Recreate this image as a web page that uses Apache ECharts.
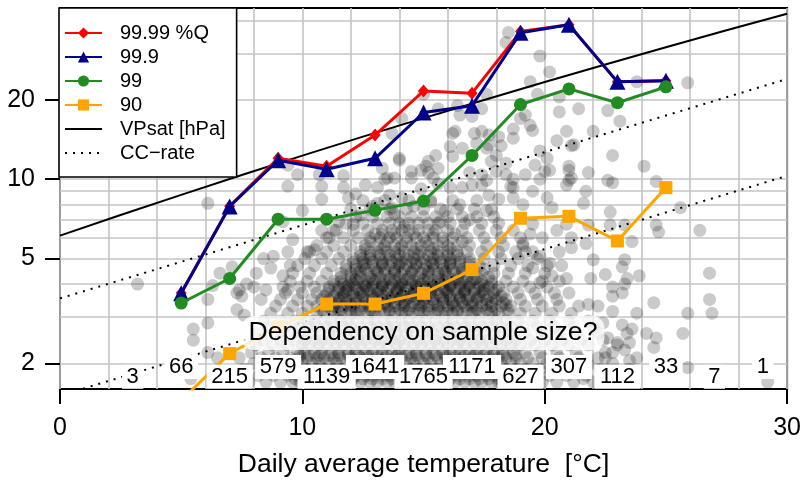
<!DOCTYPE html>
<html>
<head>
<meta charset="utf-8">
<script src="https://cdn.jsdelivr.net/npm/echarts@6/dist/echarts.min.js"></script>
<style>html,body{margin:0;padding:0;background:#fff}#c{width:804px;height:483px}</style>
</head>
<body>
<div id="c"></div>
<script>
// ---------- data ----------
const temps = [5, 7, 9, 11, 13, 15, 17, 19, 21, 23, 25];
const q9999 = [3.7, 7.9, 12.0, 11.2, 14.7, 21.6, 21.2, 36.3, 38.5, 23.4, 23.6];
const q999  = [3.69, 7.88, 11.8, 10.9, 12.0, 17.9, 19.0, 35.9, 38.5, 23.4, 23.6];
const q99   = [3.39, 4.2, 7.05, 7.05, 7.62, 8.26, 12.3, 19.2, 22.0, 19.5, 22.4];
const q90   = [1.45, 2.18, 2.75, 3.36, 3.36, 3.69, 4.54, 7.11, 7.23, 5.83, 9.29];
const vpsat = [[0,6.11],[2.5,7.31],[5,8.72],[7.5,10.37],[10,12.28],[12.5,14.5],[15,17.04],[17.5,19.97],[20,23.37],[22.5,27.23],[25,31.67],[27.5,36.71],[30,42.43]];
const ccUpper = [[0,3.53],[30,24.0]];
const ccLower = [[0,1.51],[30,10.3]];
const binCenters = [3,5,7,9,11,13,15,17,19,21,23,25,27,29];
const binCounts = [3,66,215,579,1139,1641,1765,1171,627,307,112,33,7,1];
const countLevels = [1.78, 1.94];
const xTicks = [0,10,20,30];
const yTicks = [2,5,10,20];
const yGrid = [2,3,4,5,6,7,8,9,10,20,30,40];
const yRange = [1.6, 44.6];
const xRange = [0, 30];

// scattered daily values (sparse part)
const scatterSparse = [
[3.2,4.0],[6.1,8.1],[6.1,3.5],[6.3,3.95],[6.1,2.85],[5.5,2.7],[5.5,2.45],[7.1,4.65],[7.3,3.7],[6.1,2.2],[6.5,2.1],[5.4,1.75],[7.7,4.0],[7.5,3.6],[7.3,3.2],[7.6,3.05],[8.0,3.9],[8.1,4.4],[8.3,3.5],[6.6,4.4],
[9.8,10.4],[9.4,11.3],[9.4,9.4],[10.7,10.4],[10.8,9.4],[11.7,10.3],[11.7,9.3],[10.8,8.4],[10.0,7.6],[11.9,8.5],[12.6,9.5],[13.1,9.3],[13.4,10.0],[13.8,10.1],[14.0,12.0],[13.6,8.7],[13.1,8.1],[13.7,7.8],[14.1,8.5],[11.5,6.9],[12.1,6.75],[10.8,6.4],[11.3,6.4],[9.6,5.9],[9.4,5.3],[9.2,6.9],[10.2,5.3],[11.1,6.0],[10.5,5.4],[8.8,5.1],[8.7,4.6],[8.4,5.0],[9.5,4.7],[9.2,4.3],[8.5,3.8],[9.4,3.8],[7.4,3.8],
[18.5,36.0],[18.4,33.0],[19.8,29.3],[20.2,25.5],[19.4,23.4],[19.7,21.0],[20.6,20.5],[20.6,18.0],[21.4,18.5],[22.6,18.2],[23.1,16.6],[22.0,15.2],[21.1,13.4],[22.8,12.3],[24.1,11.2],[23.8,23.4],[25.9,23.2],[21.0,10.8],[21.8,10.6],[22.6,9.9],[20.0,10.7],[19.6,11.3],[19.8,12.8],[19.4,16.0],[19.0,17.0],[19.2,17.5],[18.7,15.5],[18.7,14.3],[18.1,14.5],[18.2,13.4],[17.7,14.7],[17.6,13.1],[17.1,14.9],[17.4,18.5],[17.6,21.0],[16.5,17.5],[17.0,17.3],[16.3,15.2],[16.6,13.1],[16.1,13.3],[16.2,12.2],[15.1,11.2],[15.2,11.7],[15.5,12.3],[15.6,18.5],[13.7,14.9],[14.1,17.0],[15.0,21.0],[16.9,10.6],[17.4,10.4],[17.8,11.7],[18.0,12.3],[18.4,10.4],[18.7,10.0],[17.6,9.9],[18.6,9.4],[19.8,10.0],[21.0,9.9],[20.9,9.5],[15.2,10.6],[14.5,10.7],[13.3,11.0],[13.5,10.1],
[20.9,15.2],[20.5,14.0],[21.2,13.5],[19.5,15.3],[20.2,10.8],[21.0,11.2],[20.1,12.0],[21.1,10.1],[19.2,10.4],[18.4,11.5],[18.0,10.7],[17.7,13.5],[17.2,13.7],[17.4,15.2],[16.2,14.9],[16.4,19.0],[14.9,10.8],[15.6,11.0],[14.0,11.8],[14.5,10.1],[15.4,10.1],[16.1,9.3],[16.6,9.3],[17.0,9.5],[17.4,9.5],[17.7,8.7],[18.1,8.4],[18.7,8.5],[18.7,9.3],[19.1,8.0],[19.5,9.0],[20.1,8.5],[20.3,7.8],[19.5,6.75],[19.4,6.2],[19.9,6.0],[20.5,6.4],[20.9,6.75],[21.1,6.0],[21.1,5.5],[20.6,5.3],[20.2,4.8],[20.7,4.7],[19.8,5.1],[19.5,4.6],[20.3,4.3],[20.9,4.2],[19.8,4.05],[19.2,5.3],[19.1,5.7],
[26.8,4.4],[26.8,3.5],[26.9,3.1],[25.9,3.1],[25.7,2.6],[24.5,3.4],[26.4,6.4],[25.6,7.8],[24.6,6.7],[24.7,6.3],[24.6,2.5],[24.5,2.3],[24.2,2.6],[25.9,1.93],[29.2,1.7],[23.9,4.3],[23.6,5.8],[23.3,4.95],[23.2,4.65],[23.4,4.2],[22.7,7.5],[22.7,6.7],[23.3,6.7],
[22.0,4.95],[21.9,4.2],[22.5,4.35],[22.8,3.9],[22.8,3.6],[23.2,3.7],[23.3,4.0],[23.8,3.1],[22.8,3.15],[22.2,3.3],[21.8,3.35],[22.4,2.85],[23.2,2.8],[23.6,2.7],[22.6,2.5],[23.0,2.4],[23.5,2.4],[22.8,2.2],[23.3,2.25],[22.5,2.1],[23.5,2.05],[21.8,1.98],[21.6,1.75],
[21.7,9.0],[21.6,8.1],[21.8,6.7],[21.7,5.7],[22.8,9.7],[24.6,9.8],
[12.9,7.9],[13.8,7.4],[14.6,7.9],[15.3,8.2],[15.9,7.6],[16.5,8.0],[14.2,6.6],[15.7,6.9],[12.4,7.3],[13.3,6.2],[16.9,7.0],[17.6,7.6],[14.9,9.2],[15.6,9.6],[12.2,8.8]
];

// dense part of the cloud: value level -> temperatures read along that level
const cloudRows = [
[1.7,[7.8,8.5,9.1,9.6,9.9,10.3,10.6,11.0,11.3,11.7,12.0,12.4,12.8,13.1,13.5,13.8,14.2,14.5,14.9,15.3,15.6,16.0,16.3,16.7,17.1,17.4,17.8,18.1,18.5,18.9,19.3,19.9,20.5,21.2,22.0,23.1]],
[1.75,[9.7,10.1,10.5,10.9,11.3,11.7,12.1,12.5,12.9,13.3,13.7,14.1,14.5,14.9,15.3,15.7,16.1,16.5,16.9,17.3,17.7,18.1,18.5,19.0]],
[1.8,[8.2,8.8,9.4,9.8,10.1,10.5,10.8,11.2,11.5,11.9,12.2,12.6,12.9,13.3,13.6,14.0,14.4,14.7,15.1,15.4,15.8,16.1,16.5,16.9,17.2,17.6,17.9,18.3,18.7,19.1,19.6,20.2,20.9,21.7,22.6]],
[1.9,[7.6,8.4,9.0,9.5,9.9,10.2,10.6,10.9,11.3,11.6,12.0,12.3,12.7,13.0,13.4,13.8,14.1,14.5,14.8,15.2,15.5,15.9,16.2,16.6,17.0,17.3,17.7,18.0,18.4,18.8,19.2,19.8,20.4,21.1,22.3,23.5]],
[2.0,[8.0,8.7,9.3,9.7,10.0,10.4,10.7,11.1,11.4,11.8,12.1,12.5,12.8,13.2,13.6,13.9,14.3,14.6,15.0,15.3,15.7,16.0,16.4,16.8,17.1,17.5,17.8,18.2,18.6,19.0,19.5,20.1,20.8,21.5,22.8]],
[2.1,[7.4,8.3,8.9,9.5,9.9,10.2,10.6,10.9,11.3,11.6,12.0,12.4,12.7,13.1,13.4,13.8,14.1,14.5,14.8,15.2,15.6,15.9,16.3,16.6,17.0,17.3,17.7,18.1,18.4,18.8,19.3,19.9,20.6,21.4,22.2,23.8]],
[2.15,[9.9,10.3,10.7,11.1,11.5,11.9,12.3,12.7,13.1,13.5,13.9,14.3,14.7,15.1,15.5,15.9,16.3,16.7,17.1,17.5,17.9,18.3,18.8]],
[2.2,[7.9,8.6,9.2,9.8,10.1,10.5,10.8,11.2,11.5,11.9,12.2,12.6,12.9,13.3,13.7,14.0,14.4,14.7,15.1,15.4,15.8,16.1,16.5,16.9,17.2,17.6,17.9,18.3,18.7,19.2,19.8,20.5,21.3,22.5]],
[2.35,[8.1,8.8,9.4,10.0,10.3,10.7,11.0,11.4,11.7,12.1,12.4,12.8,13.2,13.5,13.9,14.2,14.6,14.9,15.3,15.6,16.0,16.4,16.7,17.1,17.4,17.8,18.2,18.6,19.0,19.6,20.3,21.0,21.8,23.0]],
[2.45,[8.4,9.1,9.7,10.1,10.5,10.8,11.2,11.6,11.9,12.3,12.6,13.0,13.3,13.7,14.0,14.4,14.8,15.1,15.5,15.8,16.2,16.5,16.9,17.3,17.6,18.0,18.4,18.8,19.4,20.0,20.7,21.5,22.4]],
[2.6,[8.2,9.0,9.6,10.0,10.4,10.7,11.1,11.4,11.8,12.2,12.5,12.9,13.2,13.6,13.9,14.3,14.6,15.0,15.4,15.7,16.1,16.4,16.8,17.1,17.5,17.9,18.3,18.7,19.2,19.9,20.6,21.3,22.2,23.4]],
[2.75,[8.6,9.3,9.9,10.3,10.6,11.0,11.3,11.7,12.0,12.4,12.8,13.1,13.5,13.8,14.2,14.5,14.9,15.2,15.6,16.0,16.3,16.7,17.0,17.4,17.8,18.2,18.6,19.1,19.7,20.4,21.2,22.0]],
[2.9,[8.4,9.1,9.7,10.2,10.5,10.9,11.2,11.6,11.9,12.3,12.7,13.0,13.4,13.7,14.1,14.4,14.8,15.1,15.5,15.9,16.2,16.6,16.9,17.3,17.7,18.0,18.4,18.9,19.5,20.2,21.0,21.8]],
[3.1,[8.7,9.4,10.0,10.6,10.9,11.3,11.6,12.0,12.3,12.7,13.0,13.4,13.8,14.1,14.5,14.8,15.2,15.5,15.9,16.2,16.6,17.0,17.3,17.7,18.1,18.5,19.0,19.6,20.3,21.1]],
[3.15,[11.5,12.2,12.9,13.6,14.3,15.0,15.7,16.4,17.1,17.8]],
[3.2,[10.8,11.2,11.6,12.0,12.4,12.8,13.2,13.6,14.0,14.4,14.8,15.2,15.6,16.0,16.4,16.8,17.2,17.6,18.0,18.5]],
[3.3,[8.9,9.6,10.2,10.6,11.0,11.3,11.7,12.0,12.4,12.7,13.1,13.5,13.8,14.2,14.5,14.9,15.2,15.6,16.0,16.3,16.7,17.0,17.4,17.8,18.2,18.6,19.2,19.9,20.6,21.4]],
[3.35,[11.3,12.0,12.7,13.4,14.1,14.8,15.5,16.2,16.9,17.6,18.4]],
[3.4,[11.0,11.4,11.8,12.2,12.6,13.0,13.4,13.8,14.2,14.6,15.0,15.4,15.8,16.2,16.6,17.0,17.4,17.8,18.3]],
[3.5,[9.1,9.8,10.4,10.8,11.1,11.5,11.8,12.2,12.6,12.9,13.3,13.6,14.0,14.3,14.7,15.0,15.4,15.8,16.1,16.5,16.8,17.2,17.6,18.0,18.4,19.0,19.7,20.5]],
[3.55,[11.6,12.3,13.0,13.7,14.4,15.1,15.8,16.5,17.2,17.9]],
[3.6,[10.9,11.3,11.7,12.1,12.5,12.9,13.3,13.7,14.1,14.5,14.9,15.3,15.7,16.1,16.5,16.9,17.3,17.7,18.2]],
[3.7,[9.3,10.0,10.6,11.0,11.4,11.7,12.1,12.4,12.8,13.1,13.5,13.9,14.2,14.6,14.9,15.3,15.6,16.0,16.4,16.7,17.1,17.5,17.9,18.3,18.9,19.6,20.4,21.0]],
[3.75,[11.8,12.5,13.2,13.9,14.6,15.3,16.0,16.7,17.4]],
[3.8,[11.1,11.5,11.9,12.3,12.7,13.1,13.5,13.9,14.3,14.7,15.1,15.5,15.9,16.3,16.7,17.1,17.5,18.0]],
[3.9,[9.2,9.9,10.5,11.1,11.5,11.8,12.2,12.6,12.9,13.3,13.6,14.0,14.3,14.7,15.1,15.4,15.8,16.1,16.5,16.9,17.3,17.7,18.1,18.7,19.4,20.1]],
[3.95,[11.9,12.6,13.3,14.0,14.7,15.4,16.1,16.8,17.5]],
[4.0,[11.3,11.7,12.1,12.5,12.9,13.3,13.7,14.1,14.5,14.9,15.3,15.7,16.1,16.5,16.9,17.3,17.8]],
[4.1,[9.5,10.2,10.8,11.3,11.6,12.0,12.3,12.7,13.0,13.4,13.8,14.1,14.5,14.8,15.2,15.6,15.9,16.3,16.6,17.0,17.4,17.8,18.4,19.1,19.9,20.6]],
[4.17,[12.2,12.9,13.6,14.3,15.0,15.7,16.4,17.1]],
[4.25,[11.6,12.0,12.4,12.8,13.2,13.6,14.0,14.4,14.8,15.2,15.6,16.0,16.4,16.8,17.2,17.7]],
[4.4,[9.6,10.3,11.0,11.6,12.0,12.3,12.7,13.1,13.4,13.8,14.1,14.5,14.9,15.2,15.6,15.9,16.3,16.7,17.0,17.4,17.9,18.5,19.2,20.0]],
[4.47,[12.4,13.1,13.8,14.5,15.2,15.9,16.6]],
[4.55,[11.8,12.2,12.6,13.0,13.4,13.8,14.2,14.6,15.0,15.4,15.8,16.2,16.6,17.0,17.5]],
[4.7,[9.8,10.5,11.2,11.8,12.2,12.5,12.9,13.3,13.6,14.0,14.3,14.7,15.1,15.4,15.8,16.1,16.5,16.9,17.3,17.9,18.6,19.3,20.1]],
[4.78,[12.6,13.3,14.0,14.7,15.4,16.1]],
[4.85,[12.1,12.5,12.9,13.3,13.7,14.1,14.5,14.9,15.3,15.7,16.1,16.5,16.9]],
[5.0,[10.1,10.8,11.5,12.1,12.5,12.8,13.2,13.6,13.9,14.3,14.6,15.0,15.4,15.7,16.1,16.5,16.9,17.5,18.2,18.9,19.7]],
[5.15,[12.4,12.8,13.2,13.6,14.0,14.4,14.8,15.2,15.6,16.0,16.4]],
[5.3,[10.3,11.0,11.7,12.4,12.8,13.1,13.5,13.8,14.2,14.6,14.9,15.3,15.6,16.0,16.4,16.8,17.4,18.1,18.8,19.5]],
[5.45,[12.6,13.3,14.0,14.7,15.4,16.1]],
[5.6,[10.6,11.3,12.0,12.6,13.1,13.4,13.8,14.1,14.5,14.9,15.2,15.6,16.0,16.4,16.9,17.6,18.3,19.1]],
[5.8,[12.8,13.5,14.3,15.1,15.8,16.6]],
[6.0,[11.0,11.7,12.3,12.8,13.2,13.6,13.9,14.3,14.7,15.0,15.4,15.8,16.2,16.8,17.5,18.2,19.0]],
[6.2,[13.0,13.8,14.6,15.4,16.3]],
[6.4,[11.4,12.1,12.7,13.3,13.7,14.1,14.4,14.8,15.2,15.5,16.0,16.6,17.3,18.0,18.7]],
[6.8,[11.8,12.5,13.1,13.6,14.0,14.4,14.8,15.2,15.6,16.1,16.7,17.4,18.1]],
[7.2,[12.2,12.9,13.5,14.0,14.5,15.0,15.5,16.0,16.6,17.2,17.9]],
[7.7,[12.0,12.8,13.6,14.3,15.0,15.7,16.4,17.1,17.8]],
[8.3,[12.5,13.4,14.4,15.3,16.2,17.2]]
];

// ---------- build ----------
const FONT = "'Liberation Sans', Arial, Helvetica, sans-serif";
const cloud = [];
cloudRows.forEach(([v, ts]) => ts.forEach(t => cloud.push([t, v])));
const scatterAll = scatterSparse.concat(cloud);
const pair = arr => temps.map((t, i) => [t, arr[i]]);

const chart = echarts.init(document.getElementById('c'), null, {renderer: 'canvas'});
const lineBase = {type: 'line', xAxisIndex: 0, yAxisIndex: 0, clip: true, silent: true, animation: false};

chart.setOption({
  backgroundColor: '#fff',
  animation: false,
  grid: {left: 60, right: 16, top: 8, bottom: 89, show: true, borderColor: '#000', borderWidth: 2, backgroundColor: 'transparent'},
  xAxis: [
    {type: 'value', min: xRange[0], max: xRange[1], interval: 2, position: 'bottom',
     axisLine: {show: false}, axisTick: {show: false}, axisLabel: {show: false},
     splitLine: {show: true, lineStyle: {color: '#c4c4c4', width: 1.6}}},
    {type: 'value', min: xRange[0], max: xRange[1], position: 'bottom',
     axisLine: {show: false},
     axisTick: {show: true, length: 15, customValues: xTicks, lineStyle: {color: '#000', width: 2}},
     axisLabel: {show: true, customValues: xTicks, fontSize: 25, color: '#000', fontFamily: FONT, margin: 27, showMinLabel: true, showMaxLabel: true},
     splitLine: {show: false},
     name: 'Daily average temperature  [°C]', nameLocation: 'middle', nameGap: 62,
     nameTextStyle: {fontSize: 26.5, color: '#000', fontFamily: FONT}}
  ],
  yAxis: [
    {type: 'log', logBase: 10, min: yRange[0], max: yRange[1], position: 'left',
     axisLine: {show: false},
     axisTick: {show: false, customValues: yGrid},
     axisLabel: {show: false},
     splitLine: {show: true, lineStyle: {color: '#c4c4c4', width: 1.6}}},
    {type: 'log', logBase: 10, min: yRange[0], max: yRange[1], position: 'left',
     axisLine: {show: false},
     axisTick: {show: true, length: 15, customValues: yTicks, lineStyle: {color: '#000', width: 2}},
     axisLabel: {show: true, customValues: yTicks, fontSize: 25, color: '#000', fontFamily: FONT, margin: 25},
     splitLine: {show: false}}
  ],
  legend: {
    orient: 'vertical', left: 59, top: 8, z: 20, zlevel: 1,
    backgroundColor: '#fff', borderColor: '#000', borderWidth: 1.6, borderRadius: 0,
    padding: [15, 11, 14, 5], itemWidth: 37, itemHeight: 14, itemGap: 4,
    textStyle: {fontSize: 20, color: '#000', fontFamily: FONT, padding: [0, 0, 0, 13]},
    data: ['99.99 %Q', '99.9', '99', '90',
           {name: 'VPsat [hPa]', itemStyle: {opacity: 0}},
           {name: 'CC\u2212rate', itemStyle: {opacity: 0}}],
    selectedMode: false
  },
  graphic: [{
    type: 'text', x: 423, y: 333, z: 50, zlevel: 1,
    style: {text: 'Dependency on sample size?', font: '26.6px ' + FONT, fill: '#000',
            align: 'center', verticalAlign: 'middle',
            backgroundColor: 'rgba(255,255,255,0.8)', borderRadius: 12, padding: [4, 7, 3, 7]}
  }],
  series: [
    {type: 'scatter', name: 'days', data: scatterAll, symbol: 'circle', symbolSize: 13,
     itemStyle: {color: 'rgba(0,0,0,0.26)'}, silent: true, z: 1, clip: true, large: false, progressive: 0},
    Object.assign({}, lineBase, {name: 'VPsat [hPa]', data: vpsat, symbol: 'none', z: 3,
     lineStyle: {color: '#000', width: 2}, itemStyle: {color: '#000'}}),
    Object.assign({}, lineBase, {name: 'CC\u2212rate', data: ccUpper, symbol: 'none', z: 3,
     lineStyle: {color: '#000', width: 2, type: [2, 6]}, itemStyle: {color: '#000'}}),
    Object.assign({}, lineBase, {name: 'CC\u2212rate', data: ccLower, symbol: 'none', z: 3,
     lineStyle: {color: '#000', width: 2, type: [2, 6]}, itemStyle: {color: '#000'}}),
    Object.assign({}, lineBase, {name: '99.99 %Q', data: pair(q9999), symbol: 'diamond', symbolSize: [11, 13], z: 4,
     lineStyle: {color: '#ff0000', width: 3}, itemStyle: {color: '#ff0000'}}),
    Object.assign({}, lineBase, {name: '99.9', data: pair(q999), symbol: 'triangle', symbolSize: 16, z: 5,
     lineStyle: {color: '#00008b', width: 3}, itemStyle: {color: '#00008b'}}),
    Object.assign({}, lineBase, {name: '99', data: pair(q99), symbol: 'circle', symbolSize: 13, z: 6,
     lineStyle: {color: '#228b22', width: 3}, itemStyle: {color: '#228b22'}}),
    Object.assign({}, lineBase, {name: '90', data: pair(q90), symbol: 'rect', symbolSize: 13, z: 7,
     lineStyle: {color: '#ffa500', width: 3}, itemStyle: {color: '#ffa500'}}),
    {type: 'scatter', name: 'counts', silent: true, z: 10, zlevel: 1, clip: false,
     symbol: 'rect',
     symbolSize: (val, p) => [String(binCounts[p.dataIndex]).length * 12.3 + 9, 24],
     itemStyle: {color: '#fff', opacity: 1},
     data: binCenters.map((t, i) => [t, countLevels[i % 2]]),
     label: {show: true, position: 'inside', formatter: p => String(binCounts[p.dataIndex]),
             fontSize: 22, color: '#000', fontFamily: FONT}}
  ]
});
</script>
</body>
</html>
